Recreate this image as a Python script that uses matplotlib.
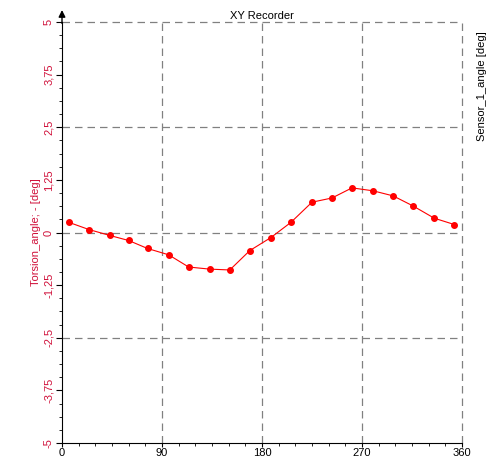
import matplotlib.pyplot as plt
from matplotlib.ticker import MultipleLocator

plt.rcParams["font.family"] = ["Liberation Sans", "DejaVu Sans"]

angle = [6.3, 24.3, 43, 60, 77, 96, 114, 133, 151, 169, 188, 206, 225, 243, 261, 280, 298, 316, 335, 353]
torsion = [0.24, 0.07, -0.07, -0.19, -0.38, -0.53, -0.82, -0.87, -0.89, -0.43, -0.12, 0.24,
           0.72, 0.82, 1.06, 0.99, 0.87, 0.63, 0.34, 0.19]
yticks = [-5, -3.75, -2.5, -1.25, 0, 1.25, 2.5, 3.75, 5]
ytick_labels = ["-5", "-3,75", "-2,5", "-1,25", "0", "1,25", "2,5", "3,75", "5"]
xticks = [0, 90, 180, 270, 360]

fig = plt.figure(figsize=(4.93, 4.58), dpi=100, facecolor="white")
ax = fig.add_axes([62 / 493, 15 / 458, 400 / 493, 421 / 458])

ax.plot(angle, torsion, color="red", linewidth=0.8, marker="o", markersize=4, zorder=3)

ax.set_xlim(0, 360)
ax.set_ylim(-5, 5)
ax.set_xticks(xticks)
ax.set_yticks(yticks)
ax.set_yticklabels(ytick_labels, rotation=90, va="center", color="#d0103a", fontsize=8)
ax.tick_params(axis="x", labelsize=8, length=3, direction="out", pad=0.5)
ax.tick_params(axis="y", length=4, direction="out", pad=2)
ax.xaxis.set_minor_locator(MultipleLocator(15))
ax.yaxis.set_minor_locator(MultipleLocator(0.3125))
ax.tick_params(which="minor", length=2)

for s in ("top", "right"):
    ax.spines[s].set_visible(False)
for v in xticks[1:]:
    ax.axvline(v, color="#808080", linestyle=(0, (6, 4)), linewidth=0.9, zorder=1, clip_on=False)
for v in [-2.5, 0, 2.5, 5]:
    ax.axhline(v, color="#808080", linestyle=(0, (6, 4)), linewidth=0.9, zorder=1, clip_on=False)

ax.annotate("", xy=(0, 5.35), xytext=(0, 4.9), annotation_clip=False,
            arrowprops=dict(arrowstyle="-|>", color="black", lw=1, mutation_scale=10))

ax.set_title("XY Recorder", fontsize=8, pad=2)
ax.set_ylabel("Torsion_angle; - [deg]", color="#d0103a", fontsize=8, labelpad=2)
fig.text(482 / 493, 372 / 458, "Sensor_1_angle [deg]", rotation=90, fontsize=8,
         ha="center", va="center")

fig.savefig("out.png", dpi=100, facecolor="white")
